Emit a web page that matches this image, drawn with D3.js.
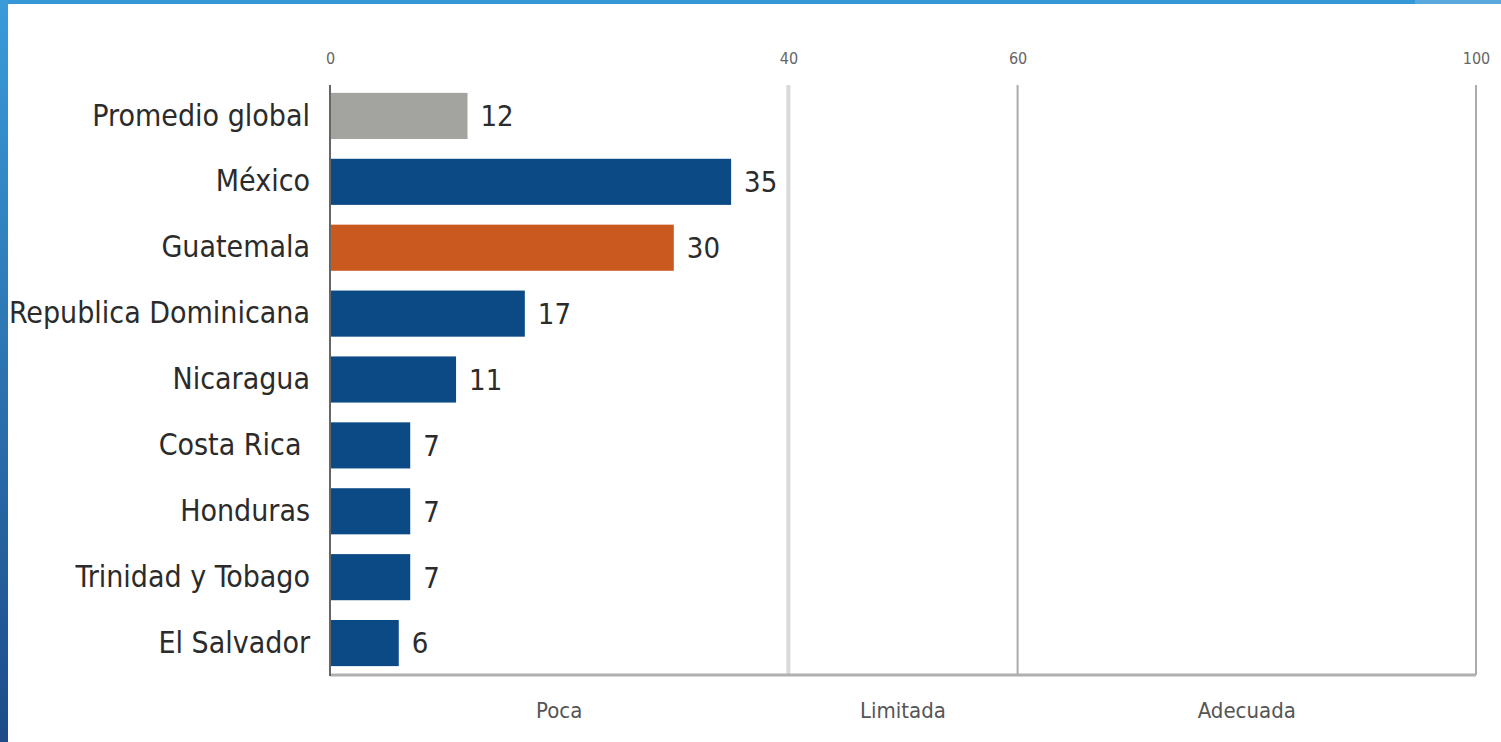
<!DOCTYPE html>
<html>
<head>
<meta charset="utf-8">
<script src="https://cdn.jsdelivr.net/npm/d3@7"></script>
<style>
  html, body { margin: 0; padding: 0; background: #fff; overflow: hidden; }
  svg { display: block; }
  text { font-family: "Liberation Sans Narrow", "DejaVu Sans Condensed", sans-serif; }
</style>
</head>
<body>
<svg width="1501" height="742"></svg>
<script>
// data
const countries = ['Promedio global', 'México', 'Guatemala', 'Republica Dominicana', 'Nicaragua', 'Costa Rica ', 'Honduras', 'Trinidad y Tobago', 'El Salvador'];
const values = [12, 35, 30, 17, 11, 7, 7, 7, 6];
const barColors = ['#a3a4a0', '#0c4a86', '#c9591f', '#0c4a86', '#0c4a86', '#0c4a86', '#0c4a86', '#0c4a86', '#0c4a86'];
const tickValues = [0, 40, 60, 100];
const bands = [
  {label: 'Poca', from: 0, to: 40},
  {label: 'Limitada', from: 40, to: 60},
  {label: 'Adecuada', from: 60, to: 100}
];

const rows = countries.map((c, i) => ({name: c, value: values[i], color: barColors[i]}));

const svg = d3.select('svg');

// slide frame
const defs = svg.append('defs');
const grad = defs.append('linearGradient').attr('id', 'side').attr('x1', 0).attr('y1', 0).attr('x2', 0).attr('y2', 1);
grad.append('stop').attr('offset', '0%').attr('stop-color', '#3a9bd9');
grad.append('stop').attr('offset', '100%').attr('stop-color', '#1d4c88');
svg.append('rect').attr('x', 0).attr('y', 0).attr('width', 1501).attr('height', 4).attr('fill', '#3597d5');
svg.append('rect').attr('x', 1415).attr('y', 0).attr('width', 86).attr('height', 4).attr('fill', '#5aa9dd');
svg.append('rect').attr('x', 0).attr('y', 0).attr('width', 8).attr('height', 742).attr('fill', 'url(#side)');

const x = d3.scaleLinear().domain([0, 100]).range([330, 1476]);
const y = d3.scaleBand().domain(countries).range([83, 676]).paddingInner(0.3).paddingOuter(0.15);

const yTop = 85, yBottom = 675;

// vertical guides
svg.append('line').attr('x1', x(40)).attr('x2', x(40)).attr('y1', yTop).attr('y2', yBottom)
  .attr('stroke', '#d9d9d9').attr('stroke-width', 4);
svg.selectAll('.guide').data([60, 100]).enter().append('line')
  .attr('class', 'guide')
  .attr('x1', d => x(d)).attr('x2', d => x(d)).attr('y1', yTop).attr('y2', yBottom)
  .attr('stroke', '#ababab').attr('stroke-width', 2);

// bottom line
svg.append('line').attr('x1', x(0)).attr('x2', x(100)).attr('y1', yBottom).attr('y2', yBottom)
  .attr('stroke', '#b0b0b0').attr('stroke-width', 3);

// top tick labels
const xAxis = d3.axisTop(x).tickValues(tickValues).tickSize(0).tickPadding(0);
const gx = svg.append('g').attr('transform', 'translate(0,64)').call(xAxis);
gx.select('.domain').remove();
gx.selectAll('text').attr('font-size', 16).attr('fill', '#666').attr('font-family', '"Liberation Sans Narrow", "DejaVu Sans Condensed", sans-serif');

// bars
svg.selectAll('.bar').data(rows).enter().append('rect')
  .attr('class', 'bar')
  .attr('x', x(0) + 1)
  .attr('y', d => y(d.name))
  .attr('width', d => x(d.value) - x(0) - 1)
  .attr('height', y.bandwidth())
  .attr('fill', d => d.color);

// value labels
svg.selectAll('.val').data(rows).enter().append('text')
  .attr('class', 'val')
  .attr('x', d => x(d.value) + 13)
  .attr('y', d => y(d.name) + y.bandwidth() / 2)
  .attr('dy', '0.36em')
  .attr('font-size', 29)
  .attr('fill', '#2b2b2b')
  .text(d => d.value);

// category labels
const yAxis = d3.axisLeft(y).tickSize(0).tickPadding(20);
const gy = svg.append('g').attr('transform', `translate(${x(0)},0)`).call(yAxis);
gy.select('.domain').remove();
gy.selectAll('text').attr('font-size', 30).attr('fill', '#2b2b2b')
  .attr('font-family', '"Liberation Sans Narrow", "DejaVu Sans Condensed", sans-serif')
  .style('white-space', 'pre');

// left axis line
svg.append('line').attr('x1', x(0)).attr('x2', x(0)).attr('y1', yTop).attr('y2', yBottom + 1)
  .attr('stroke', '#666').attr('stroke-width', 2);

// band labels under the axis
svg.selectAll('.band').data(bands).enter().append('text')
  .attr('class', 'band')
  .attr('x', d => x((d.from + d.to) / 2))
  .attr('y', 718)
  .attr('text-anchor', 'middle')
  .attr('font-size', 22)
  .attr('fill', '#555')
  .text(d => d.label);
</script>
</body>
</html>
